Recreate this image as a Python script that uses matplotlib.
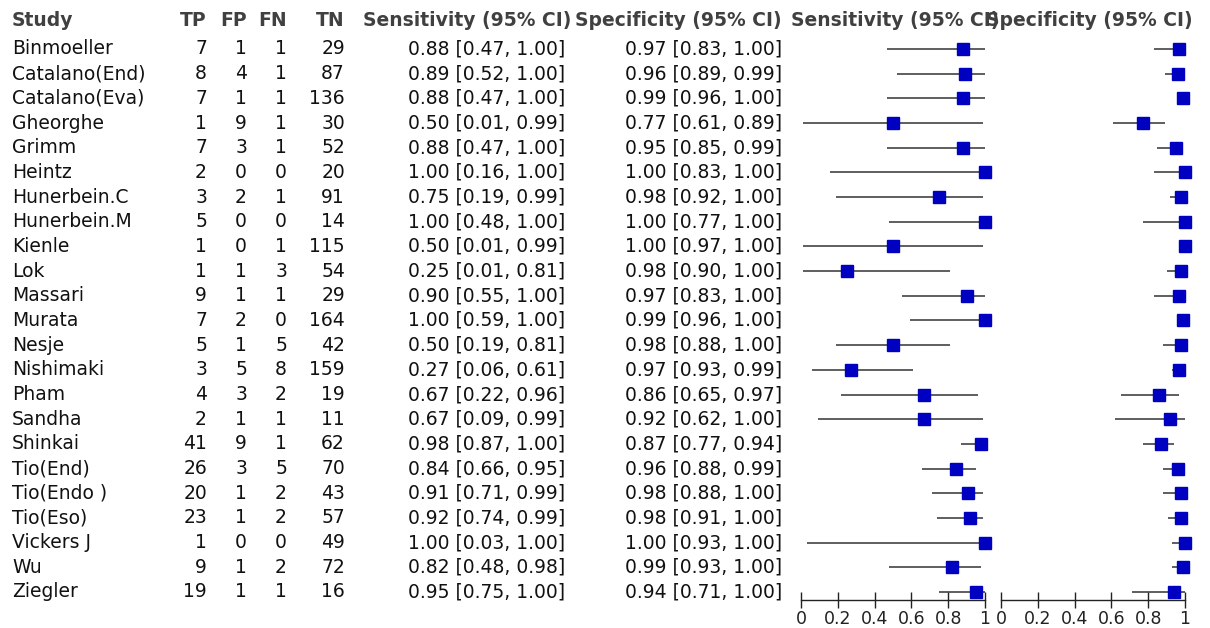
import matplotlib
matplotlib.use("Agg")
import matplotlib.pyplot as plt

# study data: 2x2 counts, sensitivity / specificity with 95% CI
studies = ["Binmoeller", "Catalano(End)", "Catalano(Eva)", "Gheorghe", "Grimm",
           "Heintz", "Hunerbein.C", "Hunerbein.M", "Kienle", "Lok", "Massari",
           "Murata", "Nesje", "Nishimaki", "Pham", "Sandha", "Shinkai",
           "Tio(End)", "Tio(Endo )", "Tio(Eso)", "Vickers J", "Wu", "Ziegler"]
tp = [7, 8, 7, 1, 7, 2, 3, 5, 1, 1, 9, 7, 5, 3, 4, 2, 41, 26, 20, 23, 1, 9, 19]
fp = [1, 4, 1, 9, 3, 0, 2, 0, 0, 1, 1, 2, 1, 5, 3, 1, 9, 3, 1, 1, 0, 1, 1]
fn = [1, 1, 1, 1, 1, 0, 1, 0, 1, 3, 1, 0, 5, 8, 2, 1, 1, 5, 2, 2, 0, 2, 1]
tn = [29, 87, 136, 30, 52, 20, 91, 14, 115, 54, 29, 164, 42, 159, 19, 11, 62,
      70, 43, 57, 49, 72, 16]
sens = [0.88, 0.89, 0.88, 0.50, 0.88, 1.00, 0.75, 1.00, 0.50, 0.25, 0.90, 1.00,
        0.50, 0.27, 0.67, 0.67, 0.98, 0.84, 0.91, 0.92, 1.00, 0.82, 0.95]
sens_lo = [0.47, 0.52, 0.47, 0.01, 0.47, 0.16, 0.19, 0.48, 0.01, 0.01, 0.55, 0.59,
           0.19, 0.06, 0.22, 0.09, 0.87, 0.66, 0.71, 0.74, 0.03, 0.48, 0.75]
sens_hi = [1.00, 1.00, 1.00, 0.99, 1.00, 1.00, 0.99, 1.00, 0.99, 0.81, 1.00, 1.00,
           0.81, 0.61, 0.96, 0.99, 1.00, 0.95, 0.99, 0.99, 1.00, 0.98, 1.00]
spec = [0.97, 0.96, 0.99, 0.77, 0.95, 1.00, 0.98, 1.00, 1.00, 0.98, 0.97, 0.99,
        0.98, 0.97, 0.86, 0.92, 0.87, 0.96, 0.98, 0.98, 1.00, 0.99, 0.94]
spec_lo = [0.83, 0.89, 0.96, 0.61, 0.85, 0.83, 0.92, 0.77, 0.97, 0.90, 0.83, 0.96,
           0.88, 0.93, 0.65, 0.62, 0.77, 0.88, 0.88, 0.91, 0.93, 0.93, 0.71]
spec_hi = [1.00, 0.99, 1.00, 0.89, 0.99, 1.00, 1.00, 1.00, 1.00, 1.00, 1.00, 1.00,
           1.00, 0.99, 0.97, 1.00, 0.94, 0.99, 1.00, 1.00, 1.00, 1.00, 1.00]
ticks = [0, 0.2, 0.4, 0.6, 0.8, 1]
tick_labels = ["0", "0.2", "0.4", "0.6", "0.8", "1"]

W, H = 1210, 628
fig = plt.figure(figsize=(W / 100, H / 100), dpi=100)

# text table drawn in pixel coordinates
tab = fig.add_axes([0, 0, 1, 1])
tab.set_xlim(0, W)
tab.set_ylim(H, 0)
tab.axis("off")

row0, step = 49, 24.68
fs = 13.5
hdr = dict(fontsize=fs, fontweight="bold", color="#404040", va="center")
head_y = 20
tab.text(12, head_y, "Study", ha="left", **hdr)
for x, s in [(207, "TP"), (247, "FP"), (287, "FN"), (345, "TN")]:
    tab.text(x, head_y, s, ha="right", **hdr)
tab.text(571, head_y, "Sensitivity (95% CI)", ha="right", **hdr)
tab.text(782, head_y, "Specificity (95% CI)", ha="right", **hdr)
tab.text(791, head_y, "Sensitivity (95% CI)", ha="left", **hdr)
tab.text(1193, head_y, "Specificity (95% CI)", ha="right", **hdr)

body = dict(fontsize=fs, color="#111111", va="center")
for i, name in enumerate(studies):
    y = row0 + step * i
    tab.text(12, y, name, ha="left", **body)
    tab.text(207, y, str(tp[i]), ha="right", **body)
    tab.text(247, y, str(fp[i]), ha="right", **body)
    tab.text(287, y, str(fn[i]), ha="right", **body)
    tab.text(345, y, str(tn[i]), ha="right", **body)
    tab.text(565, y, "%.2f [%.2f, %.2f]" % (sens[i], sens_lo[i], sens_hi[i]),
             ha="right", **body)
    tab.text(782, y, "%.2f [%.2f, %.2f]" % (spec[i], spec_lo[i], spec_hi[i]),
             ha="right", **body)


def forest(x0, est, lo, hi):
    # axes spanning pixel x0..x0+184, bottom edge at the axis line
    top_px, bot_px = 37, 600
    ax = fig.add_axes([x0 / W, 1 - bot_px / H, 184 / W, (bot_px - top_px) / H])
    ax.set_xlim(0, 1)
    ax.set_ylim((bot_px - row0) / step, (top_px - row0) / step)
    rows = list(range(len(est)))
    ax.hlines(rows, lo, hi, color="#333333", lw=1.1, clip_on=False)
    ax.plot(est, rows, ls="none", marker="s", ms=8, color="#0000c0",
            mec="#0000c0", clip_on=False, zorder=3)
    for s in ["top", "left", "right"]:
        ax.spines[s].set_visible(False)
    ax.spines["bottom"].set_color("#222222")
    ax.spines["bottom"].set_linewidth(1.0)
    ax.set_yticks([])
    ax.set_xticks(ticks)
    ax.set_xticklabels(tick_labels, fontsize=12.5, color="#222222")
    ax.tick_params(axis="x", direction="inout", length=11, width=1.0,
                   color="#222222", pad=2)
    ax.patch.set_alpha(0)
    return ax


forest(801, sens, sens_lo, sens_hi)
forest(1001, spec, spec_lo, spec_hi)

fig.savefig("out.png", dpi=100)
